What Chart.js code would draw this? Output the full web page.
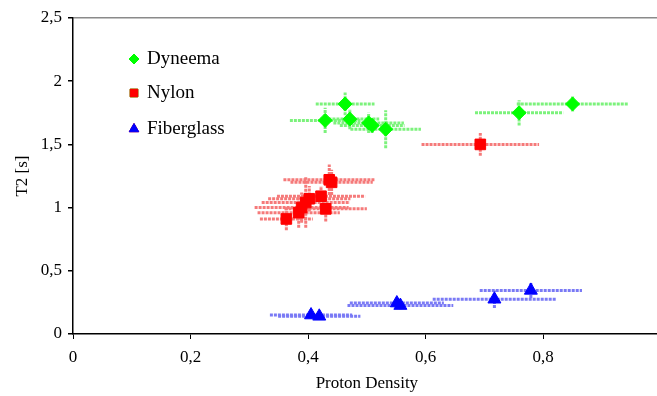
<!DOCTYPE html>
<html>
<head>
<meta charset="utf-8">
<script src="https://cdn.jsdelivr.net/npm/chart.js@4"></script>
<style>
  html, body { margin: 0; padding: 0; background: #fff; }
  #wrap { width: 657px; height: 396px; overflow: hidden; position: relative; }
  #box { width: 673px; height: 396px; }
</style>
</head>
<body>
<div id="wrap"><div id="box"><canvas id="grafico"></canvas></div></div>
<script>
// Datos
const dyneemaX = [0.429, 0.463, 0.471, 0.503, 0.509, 0.532, 0.759, 0.850];
const dyneemaY = [1.69, 1.82, 1.70, 1.67, 1.65, 1.62, 1.75, 1.82];
const dyneemaXErr = [0.06, 0.05, 0.05, 0.06, 0.055, 0.06, 0.075, 0.095];
const dyneemaYErr = [0.10, 0.09, 0.08, 0.08, 0.06, 0.15, 0.10, 0.06];

const nylonX = [0.363, 0.384, 0.389, 0.396, 0.402, 0.422, 0.430, 0.436, 0.440, 0.693];
const nylonY = [0.91, 0.96, 1.00, 1.04, 1.07, 1.09, 0.99, 1.22, 1.20, 1.50];
const nylonXErr = [0.045, 0.07, 0.08, 0.075, 0.07, 0.075, 0.07, 0.078, 0.07, 0.10];
const nylonYErr = [0.09, 0.12, 0.12, 0.20, 0.10, 0.08, 0.10, 0.12, 0.10, 0.09];

const fiberX = [0.405, 0.419, 0.551, 0.557, 0.717, 0.779];
const fiberY = [0.15, 0.14, 0.245, 0.225, 0.275, 0.345];
const fiberXErr = [0.07, 0.07, 0.08, 0.09, 0.105, 0.087];
const fiberYErr = [0.03, 0.02, 0.04, 0.03, 0.07, 0.06];

const xTicks = [0, 0.2, 0.4, 0.6, 0.8, 1];
const yTicks = [0, 0.5, 1, 1.5, 2, 2.5];

const fuente = 'Liberation Serif';

function puntos(xs, ys, exs, eys) {
    return xs.map((x, i) => ({ x: x, y: ys[i], ex: exs[i], ey: eys[i] }));
}

function coma(v) {
    return String(Math.round(v * 10) / 10).replace('.', ',');
}

// Barras de error (sin remates), dibujadas antes de los marcadores
const barrasError = {
    id: 'barrasError',
    beforeDatasetsDraw(chart) {
        const ctx = chart.ctx;
        const xs = chart.scales.x;
        const ys = chart.scales.y;
        ctx.save();
        chart.data.datasets.forEach(ds => {
            ctx.strokeStyle = ds.errorColor;
            ctx.lineWidth = 3;
            ctx.setLineDash([3, 1]);
            ds.data.forEach(p => {
                const px = xs.getPixelForValue(p.x);
                const py = ys.getPixelForValue(p.y);
                ctx.beginPath();
                ctx.moveTo(xs.getPixelForValue(p.x - p.ex), py);
                ctx.lineTo(xs.getPixelForValue(p.x + p.ex), py);
                ctx.moveTo(px, ys.getPixelForValue(p.y - p.ey));
                ctx.lineTo(px, ys.getPixelForValue(p.y + p.ey));
                ctx.stroke();
            });
        });
        ctx.restore();
    }
};

// Leyenda dentro del área del gráfico
const leyenda = {
    id: 'leyenda',
    afterDatasetsDraw(chart) {
        const ctx = chart.ctx;
        const filas = [59, 93, 129];
        ctx.save();
        chart.data.datasets.forEach((ds, i) => {
            const y = filas[i];
            Chart.helpers.drawPoint(ctx, {
                pointStyle: ds.pointStyle,
                radius: ds.legendRadius,
                rotation: 0,
                borderWidth: 1
            }, 134, y);
            ctx.fillStyle = ds.backgroundColor;
            ctx.strokeStyle = ds.borderColor;
            ctx.fill();
            ctx.stroke();
            ctx.fillStyle = '#000';
            ctx.font = '19px "' + fuente + '"';
            ctx.textBaseline = 'middle';
            ctx.textAlign = 'left';
            ctx.fillText(ds.label, 147, y);
        });
        ctx.restore();
    }
};

new Chart(document.getElementById('grafico'), {
    type: 'scatter',
    data: {
        datasets: [
            {
                label: 'Dyneema',
                data: puntos(dyneemaX, dyneemaY, dyneemaXErr, dyneemaYErr),
                pointStyle: 'rectRot',
                pointRadius: 7,
                legendRadius: 5,
                backgroundColor: '#00ff00',
                borderColor: '#00ff00',
                errorColor: '#7cf27c'
            },
            {
                label: 'Nylon',
                data: puntos(nylonX, nylonY, nylonXErr, nylonYErr),
                pointStyle: 'rect',
                pointRadius: 7.5,
                legendRadius: 5.5,
                backgroundColor: '#ff0000',
                borderColor: '#ff0000',
                errorColor: '#f57a7a'
            },
            {
                label: 'Fiberglass',
                data: puntos(fiberX, fiberY, fiberXErr, fiberYErr),
                pointStyle: 'triangle',
                pointRadius: 7.5,
                legendRadius: 5.5,
                backgroundColor: '#0000ff',
                borderColor: '#0000ff',
                errorColor: '#7a7af5'
            }
        ]
    },
    options: {
        responsive: true,
        maintainAspectRatio: false,
        animation: false,
        layout: { padding: { top: 18, left: 0, right: 0, bottom: 0 } },
        plugins: {
            legend: { display: false },
            tooltip: { enabled: false }
        },
        scales: {
            x: {
                type: 'linear',
                min: 0,
                max: 1,
                afterBuildTicks: s => { s.ticks = xTicks.map(v => ({ value: v })); },
                afterFit: s => { s.height = 62; },
                border: { color: '#000', width: 1.5 },
                grid: { drawOnChartArea: false, tickColor: '#000', tickLength: 5 },
                ticks: {
                    color: '#000',
                    padding: 8,
                    maxRotation: 0,
                    font: { family: fuente, size: 17 },
                    callback: v => coma(v)
                },
                title: {
                    display: true,
                    text: 'Proton Density',
                    color: '#000',
                    font: { family: fuente, size: 17 },
                    padding: { top: 0, bottom: 2 }
                }
            },
            y: {
                type: 'linear',
                min: 0,
                max: 2.5,
                afterBuildTicks: s => { s.ticks = yTicks.map(v => ({ value: v })); },
                afterFit: s => { s.width = 73; },
                border: { color: '#000', width: 1.5 },
                grid: {
                    color: c => (c.tick && c.tick.value === 2.5) ? '#8a8a8a' : 'rgba(0,0,0,0)',
                    lineWidth: 1.5,
                    tickColor: '#000',
                    tickLength: 5
                },
                ticks: {
                    color: '#000',
                    padding: 6,
                    font: { family: fuente, size: 17 },
                    callback: v => coma(v)
                },
                title: {
                    display: true,
                    text: 'T2 [s]',
                    color: '#000',
                    font: { family: fuente, size: 17 },
                    padding: { top: 12, bottom: 0 }
                }
            }
        }
    },
    plugins: [barrasError, leyenda]
});
</script>
</body>
</html>
